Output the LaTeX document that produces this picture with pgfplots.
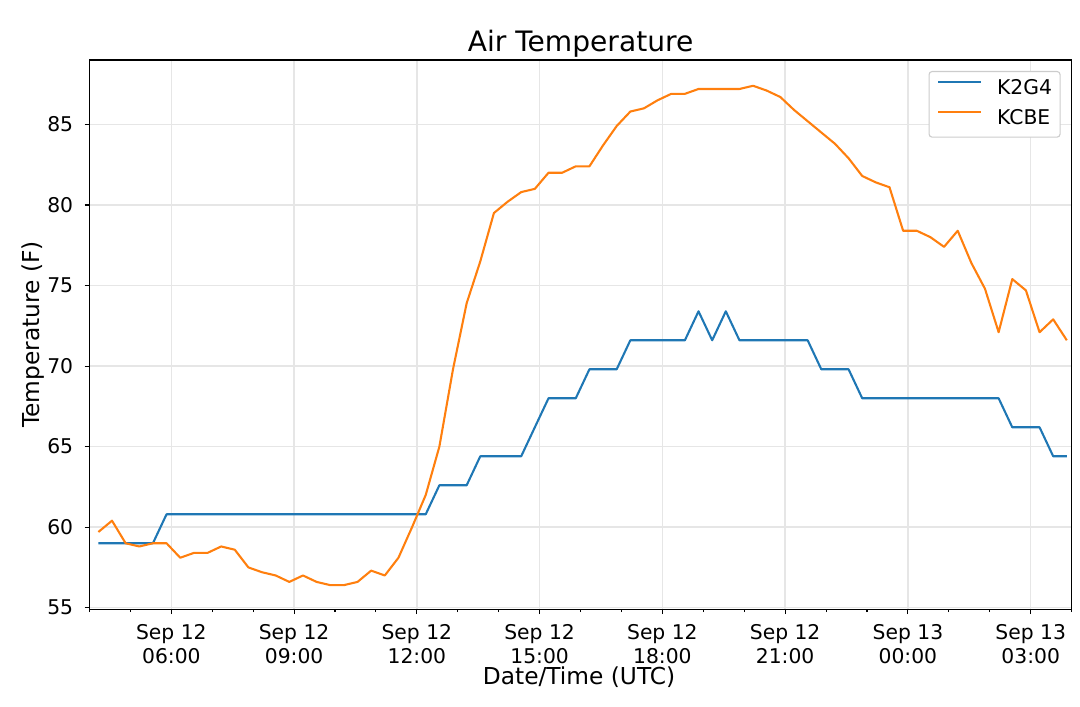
\documentclass[border=0pt]{standalone}
\usepackage{fontspec}
\setmainfont{DejaVu Sans}
\usepackage{pgfplots}
\pgfplotsset{compat=1.18}
\usepackage{pgfplotstable}
\definecolor{mblue}{HTML}{1F77B4}
\definecolor{morange}{HTML}{FF7F0E}
\definecolor{gridc}{HTML}{E6E6E6}
\definecolor{legc}{HTML}{CCCCCC}

\pgfplotstableread{
t k2g4 kcbe
4.217 59 59.7
4.550 59 60.4
4.883 59 59.0
5.217 59 58.8
5.550 59 59.0
5.883 60.8 59.0
6.217 60.8 58.1
6.550 60.8 58.4
6.883 60.8 58.4
7.217 60.8 58.8
7.550 60.8 58.6
7.883 60.8 57.5
8.217 60.8 57.2
8.550 60.8 57.0
8.883 60.8 56.6
9.217 60.8 57.0
9.550 60.8 56.6
9.883 60.8 56.4
10.217 60.8 56.4
10.550 60.8 56.6
10.883 60.8 57.3
11.217 60.8 57.0
11.550 60.8 58.1
11.883 60.8 60.0
12.217 60.8 62.0
12.550 62.6 65.0
12.883 62.6 69.8
13.217 62.6 73.9
13.550 64.4 76.5
13.883 64.4 79.5
14.217 64.4 80.2
14.550 64.4 80.8
14.883 66.2 81.0
15.217 68 82.0
15.550 68 82.0
15.883 68 82.4
16.217 69.8 82.4
16.550 69.8 83.7
16.883 69.8 84.9
17.217 71.6 85.8
17.550 71.6 86.0
17.883 71.6 86.5
18.217 71.6 86.9
18.550 71.6 86.9
18.883 73.4 87.2
19.217 71.6 87.2
19.550 73.4 87.2
19.883 71.6 87.2
20.217 71.6 87.4
20.550 71.6 87.1
20.883 71.6 86.7
21.217 71.6 85.9
21.550 71.6 85.2
21.883 69.8 84.5
22.217 69.8 83.8
22.550 69.8 82.9
22.883 68 81.8
23.217 68 81.4
23.550 68 81.1
23.883 68 78.4
24.217 68 78.4
24.550 68 78.0
24.883 68 77.4
25.217 68 78.4
25.550 68 76.4
25.883 68 74.8
26.217 68 72.1
26.550 66.2 75.4
26.883 66.2 74.7
27.217 66.2 72.1
27.550 64.4 72.9
27.883 64.4 71.6
}\datatable

\begin{document}
\begin{tikzpicture}
\useasboundingbox (-89.5pt,-97.7pt) rectangle (990.5pt,609.3pt);
\begin{axis}[
  at={(0pt,0pt)}, anchor=south west,
  scale only axis, width=982.1pt, height=549.3pt,
  xmin=4, xmax=28, ymin=54.9, ymax=89.0,
  axis line style={black, line width=1.1pt},
  tick pos=left, tick align=outside,
  major tick length=4.9pt, minor tick length=2.8pt,
  every tick/.style={black, line width=1.1pt},
  xtick={6,9,12,15,18,21,24,27},
  minor xtick={4,5,7,8,10,11,13,14,16,17,19,20,22,23,25,26,28},
  xticklabels={{Sep 12\\06:00},{Sep 12\\09:00},{Sep 12\\12:00},{Sep 12\\15:00},{Sep 12\\18:00},{Sep 12\\21:00},{Sep 13\\00:00},{Sep 13\\03:00}},
  ytick={55,60,65,70,75,80,85},
  /pgf/number format/assume math mode=true,
  xticklabel style={align=center, font=\fontsize{20.3}{24.3}\selectfont, inner sep=0pt, anchor=north, yshift=-9.6pt},
  yticklabel style={font=\fontsize{20.3}{24.3}\selectfont, inner sep=0pt, anchor=east, xshift=-11.3pt},
  xmajorgrids, ymajorgrids,
  major grid style={gridc, line width=1.4pt},
  every axis title shift=0pt,
  title={Air Temperature},
  title style={font=\fontsize{28.1}{33}\selectfont, at={(axis description cs:0.5,1)}, anchor=base, yshift=8.3pt},
  xlabel={Date/Time (UTC)},
  xlabel style={font=\fontsize{23.3}{28}\selectfont, at={(axis description cs:0.4985,-0.1378)}, anchor=base},
  ylabel={Temperature (F)},
  ylabel style={font=\fontsize{23.3}{28}\selectfont, at={(axis description cs:-0.0572,0.5)}, anchor=center},
  legend cell align=left,
  legend image code/.code={\draw[#1] (0pt,7.4pt) -- (43pt,7.4pt);},
  legend style={at={(1,1)}, anchor=north east, xshift=-11pt, yshift=-11pt,
    draw=legc, line width=1.1pt, rounded corners=3pt, fill=white,
    inner xsep=8pt, inner ysep=8.3pt, row sep=9.8pt, column sep=15pt,
    font=\fontsize{20.3}{24.3}\selectfont,
    nodes={inner sep=0pt, text height=14.8pt, text depth=4.8pt}},
]
\addplot[mblue, line width=2.08pt, line join=round] table[x=t, y=k2g4] {\datatable};
\addlegendentry{K2G4}
\addplot[morange, line width=2.08pt, line join=round] table[x=t, y=kcbe] {\datatable};
\addlegendentry{KCBE}
\end{axis}
\end{tikzpicture}
\end{document}
